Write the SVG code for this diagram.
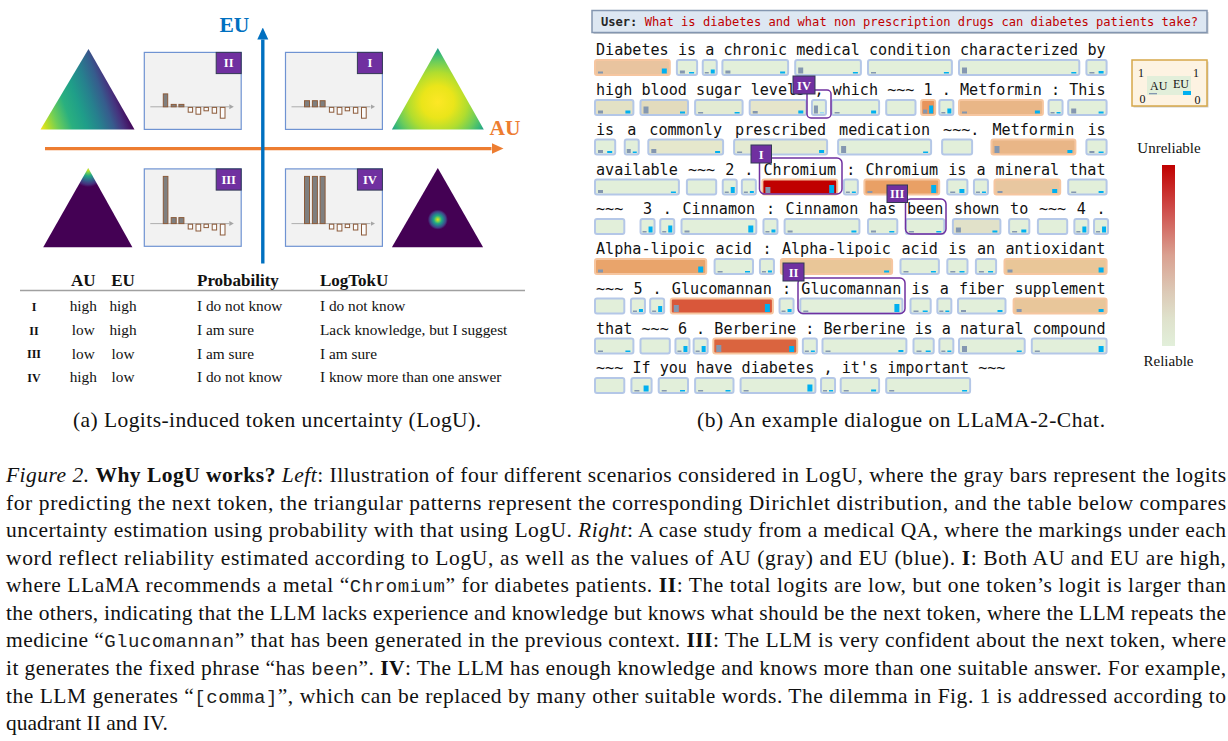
<svg xmlns="http://www.w3.org/2000/svg" width="1228" height="741" viewBox="0 0 1228 741">
<defs>
<style>
.m{font-family:"DejaVu Sans Mono","Liberation Mono",monospace;font-size:15.1px;fill:#111}
.sf{font-family:"Liberation Serif","Times New Roman",serif;fill:#111}
.cap{font-family:"Liberation Serif","Times New Roman",serif;font-size:21.5px;fill:#111}
.cm{font-family:"Liberation Mono","Courier New",monospace;font-size:19px;fill:#222}
.b{fill:#e2efda;stroke:#b4c7e7;stroke-width:2;rx:2px;ry:2px}
.o{stroke:#f6c6a0}
.a{fill:#8497b0}
.e{fill:#00b0f0}
.ring{fill:none;stroke:#7030a0;stroke-width:1.5}
.tag{fill:#7030a0;stroke:#333a55;stroke-width:1}
.tt{fill:#fff;font-family:"Liberation Serif","Times New Roman",serif;font-weight:bold;font-size:12.5px;text-anchor:middle}
.panel{fill:#f2f2f2;stroke:#6f93d2;stroke-width:1.2}
.pb{fill:#7f7f7f;stroke:#8c5b3a;stroke-width:1}
.nb{fill:#fbfbfb;stroke:#8c5b3a;stroke-width:1}
.ax{stroke:#a6a6a6;stroke-width:0.9;fill:none}
.th{font-family:"Liberation Serif","Times New Roman",serif;font-weight:bold;font-size:17px;fill:#111}
.td{font-family:"Liberation Serif","Times New Roman",serif;font-size:15.3px;fill:#111}
.rn{font-family:"Liberation Serif","Times New Roman",serif;font-weight:bold;font-size:12px;fill:#111;text-anchor:middle}
.mid{text-anchor:middle}
</style>
<linearGradient id="gTL" gradientUnits="userSpaceOnUse" x1="40" y1="130" x2="125" y2="100">
<stop offset="0" stop-color="#fde725"/><stop offset="0.08" stop-color="#c2df23"/><stop offset="0.2" stop-color="#6ece58"/><stop offset="0.35" stop-color="#2ab07f"/><stop offset="0.5" stop-color="#1f9e89"/><stop offset="0.65" stop-color="#277f8e"/><stop offset="0.78" stop-color="#365c8d"/><stop offset="0.88" stop-color="#46337e"/><stop offset="1" stop-color="#440154"/>
</linearGradient>
<radialGradient id="gTR" gradientUnits="userSpaceOnUse" cx="437.8" cy="102" r="54">
<stop offset="0" stop-color="#fde725"/><stop offset="0.3" stop-color="#eae51a"/><stop offset="0.55" stop-color="#b0dd2f"/><stop offset="0.75" stop-color="#6ccd5a"/><stop offset="0.9" stop-color="#35b779"/><stop offset="1" stop-color="#23988a"/>
</radialGradient>
<radialGradient id="gBL" gradientUnits="userSpaceOnUse" cx="88.2" cy="170" r="17">
<stop offset="0" stop-color="#d8e219"/><stop offset="0.15" stop-color="#7ad151"/><stop offset="0.35" stop-color="#22a884"/><stop offset="0.6" stop-color="#31688e"/><stop offset="0.85" stop-color="#462f7c"/><stop offset="1" stop-color="#440154"/>
</radialGradient>
<radialGradient id="gBR" gradientUnits="userSpaceOnUse" cx="437.8" cy="219.6" r="10">
<stop offset="0" stop-color="#e5e419"/><stop offset="0.2" stop-color="#7ad151"/><stop offset="0.4" stop-color="#22a884"/><stop offset="0.6" stop-color="#2a788e"/><stop offset="0.8" stop-color="#414487"/><stop offset="1" stop-color="#440154"/>
</radialGradient>
<linearGradient id="cb" x1="0" y1="0" x2="0" y2="1">
<stop offset="0" stop-color="#c00000"/><stop offset="0.25" stop-color="#cf4f4c"/><stop offset="0.5" stop-color="#daa191"/><stop offset="0.7" stop-color="#dcc9b6"/><stop offset="0.85" stop-color="#dfe2cc"/><stop offset="1" stop-color="#e2efda"/>
</linearGradient>
<marker id="mo" markerUnits="userSpaceOnUse" markerWidth="12" markerHeight="12" refX="0" refY="5.5" orient="auto"><path d="M0,0 L12,5.5 L0,11 z" fill="#ed7d31"/></marker>
<marker id="mb" markerUnits="userSpaceOnUse" markerWidth="12" markerHeight="12" refX="0" refY="5.5" orient="auto"><path d="M0,0 L12,5.5 L0,11 z" fill="#0070c0"/></marker>
<marker id="mg" markerUnits="userSpaceOnUse" markerWidth="6" markerHeight="6" refX="0" refY="2.5" orient="auto"><path d="M0,0 L4.5,2.5 L0,5 z" fill="#a6a6a6"/></marker>
</defs>
<rect width="1228" height="741" fill="#fff"/>

<!-- LEFT PANEL -->
<g id="tri-II"><polygon points="88.5,49 134.5,129.4 40.5,129.4" fill="url(#gTL)"/></g>
<g id="tri-I"><polygon points="437.8,48 483.8,129.4 391.9,129.4" fill="url(#gTR)"/></g>
<g id="tri-III"><polygon points="88.2,167.9 132.4,247.3 43.2,247.3" fill="url(#gBL)"/></g>
<g id="tri-IV"><polygon points="437.8,167.9 483.1,247.3 391.9,247.3" fill="url(#gBR)"/></g>

<g id="panel-II" transform="translate(144.3,52.4)">
<rect class="panel" width="96.9" height="77"/>
<line class="ax" x1="6" y1="54.4" x2="85" y2="54.4" marker-end="url(#mg)"/>
<rect class="pb" x="19" y="41.5" width="4.4" height="12.9"/><rect class="pb" x="26.9" y="52" width="5" height="2.4"/><rect class="pb" x="34.6" y="52" width="5" height="2.4"/>
<rect class="nb" x="43.9" y="55" width="4.4" height="4.8"/><rect class="nb" x="51.7" y="55" width="4.7" height="6.8"/><rect class="nb" x="59.7" y="55" width="4.4" height="3.4"/><rect class="nb" x="67.9" y="55" width="4.4" height="5.8"/><rect class="nb" x="76" y="55" width="4.7" height="10.8"/>
<rect class="tag" x="71.9" y="0" width="25" height="21.2"/><text class="tt" x="84.4" y="15">II</text>
</g>
<g id="panel-I" transform="translate(285.5,52.4)">
<rect class="panel" width="96.9" height="77"/>
<line class="ax" x1="6" y1="54.4" x2="85" y2="54.4" marker-end="url(#mg)"/>
<rect class="pb" x="19" y="48.3" width="5" height="6.1"/><rect class="pb" x="26.9" y="48.3" width="5" height="6.1"/><rect class="pb" x="34.6" y="48.3" width="5" height="6.1"/>
<rect class="nb" x="43.9" y="55" width="4.4" height="4.8"/><rect class="nb" x="51.7" y="55" width="4.7" height="6.8"/><rect class="nb" x="59.7" y="55" width="4.4" height="3.4"/><rect class="nb" x="67.9" y="55" width="4.4" height="5.8"/><rect class="nb" x="76" y="55" width="4.7" height="10.8"/>
<rect class="tag" x="71.9" y="0" width="25" height="21.2"/><text class="tt" x="84.4" y="15">I</text>
</g>
<g id="panel-III" transform="translate(144.3,168.9)">
<rect class="panel" width="96.9" height="77.4"/>
<line class="ax" x1="6" y1="54.7" x2="85" y2="54.7" marker-end="url(#mg)"/>
<rect class="pb" x="19" y="7.5" width="4.6" height="47.2"/><rect class="pb" x="26.9" y="48.7" width="5" height="6"/><rect class="pb" x="34.6" y="48.7" width="5" height="6"/>
<rect class="nb" x="43.9" y="55.3" width="4.4" height="4.8"/><rect class="nb" x="51.7" y="55.3" width="4.7" height="6.8"/><rect class="nb" x="59.7" y="55.3" width="4.4" height="3.4"/><rect class="nb" x="67.9" y="55.3" width="4.4" height="5.8"/><rect class="nb" x="76" y="55.3" width="4.7" height="10.8"/>
<rect class="tag" x="71.9" y="0" width="25" height="21.2"/><text class="tt" x="84.4" y="15">III</text>
</g>
<g id="panel-IV" transform="translate(285.5,168.9)">
<rect class="panel" width="96.9" height="77.4"/>
<line class="ax" x1="6" y1="54.7" x2="85" y2="54.7" marker-end="url(#mg)"/>
<rect class="pb" x="19" y="7.5" width="5" height="47.2"/><rect class="pb" x="26.9" y="7.5" width="5" height="47.2"/><rect class="pb" x="34.6" y="7.5" width="5" height="47.2"/>
<rect class="nb" x="43.9" y="55.3" width="4.4" height="4.8"/><rect class="nb" x="51.7" y="55.3" width="4.7" height="6.8"/><rect class="nb" x="59.7" y="55.3" width="4.4" height="3.4"/><rect class="nb" x="67.9" y="55.3" width="4.4" height="5.8"/><rect class="nb" x="76" y="55.3" width="4.7" height="10.8"/>
<rect class="tag" x="71.9" y="0" width="25" height="21.2"/><text class="tt" x="84.4" y="15">IV</text>
</g>

<g id="connectors">
<line x1="45" y1="148.6" x2="491.5" y2="148.6" stroke="#ed7d31" stroke-width="3.4" marker-end="url(#mo)"/>
<line x1="262.8" y1="263.5" x2="262.8" y2="39.5" stroke="#0070c0" stroke-width="3.4" marker-end="url(#mb)"/>
</g>
<text class="sf" x="219.5" y="32" font-size="21.5" font-weight="bold" style="fill:#0070c0">EU</text>
<text class="sf" x="489.5" y="134.5" font-size="21.5" font-weight="bold" style="fill:#ed7d31">AU</text>

<!-- TABLE -->
<g id="table">
<text class="th mid" x="83.3" y="286">AU</text>
<text class="th mid" x="123" y="286">EU</text>
<text class="th" x="197" y="286">Probability</text>
<text class="th" x="320" y="286">LogTokU</text>
<line x1="20" y1="290.5" x2="525" y2="290.5" stroke="#a0a0a0" stroke-width="1.5"/>
<text class="rn" x="34" y="311">I</text><text class="td mid" x="83.3" y="311.3">high</text><text class="td mid" x="123" y="311.3">high</text><text class="td" x="197" y="311.3">I do not know</text><text class="td" x="320" y="311.3">I do not know</text>
<text class="rn" x="34" y="334.7">II</text><text class="td mid" x="83.3" y="335">low</text><text class="td mid" x="123" y="335">high</text><text class="td" x="197" y="335">I am sure</text><text class="td" x="320" y="335">Lack knowledge, but I suggest</text>
<text class="rn" x="34" y="358.3">III</text><text class="td mid" x="83.3" y="358.6">low</text><text class="td mid" x="123" y="358.6">low</text><text class="td" x="197" y="358.6">I am sure</text><text class="td" x="320" y="358.6">I am sure</text>
<text class="rn" x="34" y="381.9">IV</text><text class="td mid" x="83.3" y="382.2">high</text><text class="td mid" x="123" y="382.2">low</text><text class="td" x="197" y="382.2">I do not know</text><text class="td" x="320" y="382.2">I know more than one answer</text>
</g>
<text class="sf" x="73" y="426.5" font-size="21.5" textLength="408" lengthAdjust="spacing">(a)  Logits-induced token uncertainty (LogU).</text>

<!-- RIGHT PANEL -->
<g id="user-box">
<rect x="593.5" y="12" width="615" height="22" fill="#c8ccd2"/>
<rect x="592" y="10.5" width="615" height="22" fill="#dde7f2" stroke="#8496b0" stroke-width="1.5"/>
<text x="601" y="26" font-family="DejaVu Sans Mono, Liberation Mono, monospace" font-size="12.1" textLength="597" lengthAdjust="spacingAndGlyphs"><tspan font-weight="bold" fill="#262626">User:</tspan> <tspan fill="#c00000">What is diabetes and what non prescription drugs can diabetes patients take?</tspan></text>
</g>

<g id="boxes">
<!-- line 1 -->
<g transform="translate(595,60)"><rect class="b o" width="74.8" height="15" style="fill:#e9c49f"/><rect class="a" x="3" y="11.5" width="5" height="2"/><rect class="e" x="66.8" y="8.5" width="5" height="5"/></g>
<g transform="translate(676.9,60)"><rect class="b" width="20.2" height="15"/><rect class="a" x="3" y="10.5" width="5" height="3"/><rect class="e" x="12.2" y="12" width="5" height="1.5"/></g>
<g transform="translate(702.75,60)"><rect class="b" width="14" height="15"/><rect class="a" x="2" y="12" width="4" height="1.5"/><rect class="e" x="8" y="9.5" width="4" height="4"/></g>
<g transform="translate(722.4,60)"><rect class="b" width="65.7" height="15"/><rect class="a" x="3" y="10.5" width="5" height="3"/><rect class="e" x="57.7" y="11.5" width="5" height="2"/></g>
<g transform="translate(795.2,60)"><rect class="b" width="65.7" height="15"/><rect class="a" x="3" y="7.5" width="5" height="6"/><rect class="e" x="57.7" y="12" width="5" height="1.5"/></g>
<g transform="translate(868,60)"><rect class="b" width="83.9" height="15"/><rect class="a" x="3" y="12" width="5" height="1.5"/><rect class="e" x="75.9" y="12" width="5" height="1.5"/></g>
<g transform="translate(959,60)"><rect class="b" width="120.3" height="15"/><rect class="a" x="3" y="7.5" width="5" height="6"/><rect class="e" x="112.3" y="12" width="5" height="1.5"/></g>
<g transform="translate(1086.4,60)"><rect class="b" width="20.2" height="15"/><rect class="a" x="3" y="12" width="5" height="1.5"/><rect class="e" x="12.2" y="11" width="5" height="2.5"/></g>
<!-- line 2 -->
<g transform="translate(595,100)"><rect class="b" width="38.4" height="15" style="fill:#e3e1c5"/><rect class="a" x="3" y="10.5" width="5" height="3"/><rect class="e" x="30.4" y="10.5" width="5" height="3"/></g>
<g transform="translate(640.5,100)"><rect class="b" width="47.5" height="15" style="fill:#e2dbbd"/><rect class="a" x="3" y="6.5" width="5" height="7"/><rect class="e" x="39.5" y="11.5" width="5" height="2"/></g>
<g transform="translate(695.1,100)"><rect class="b" width="47.5" height="15" style="fill:#e3ebd3"/><rect class="a" x="3" y="12" width="5" height="1.5"/><rect class="e" x="39.5" y="12" width="5" height="1.5"/></g>
<g transform="translate(749.7,100)"><rect class="b" width="56.6" height="15" style="fill:#e5e5cb"/><rect class="a" x="3" y="11" width="5" height="2.5"/><rect class="e" x="48.6" y="10.5" width="5" height="3"/></g>
<g transform="translate(811.95,100)"><rect class="b" width="14" height="15"/><rect class="a" x="2" y="5.5" width="4" height="8"/><rect class="e" x="8" y="12" width="4" height="1.5" style="fill:#9dd9f3"/></g>
<g transform="translate(831.6,100)"><rect class="b" width="47.5" height="15"/><rect class="a" x="3" y="12" width="5" height="1.5"/><rect class="e" x="39.5" y="10.5" width="5" height="3"/></g>
<g transform="translate(886.2,100)"><rect class="b" width="29.3" height="15"/></g>
<g transform="translate(921.15,100)"><rect class="b o" width="14" height="15" style="fill:#e8945c"/><rect class="a" x="2" y="9.5" width="4" height="4"/><rect class="e" x="8" y="5.5" width="4" height="8"/></g>
<g transform="translate(939.35,100)"><rect class="b" width="14" height="15"/><rect class="a" x="2" y="12" width="4" height="1.5"/><rect class="e" x="8" y="8.5" width="4" height="5"/></g>
<g transform="translate(959,100)"><rect class="b o" width="83.9" height="15" style="fill:#e9b687"/><rect class="a" x="3" y="11.5" width="5" height="2"/><rect class="e" x="75.9" y="10.5" width="5" height="3"/></g>
<g transform="translate(1048.55,100)"><rect class="b" width="14" height="15"/><rect class="a" x="2" y="12" width="4" height="1.5"/><rect class="e" x="8" y="12" width="4" height="1.5"/></g>
<g transform="translate(1068.2,100)"><rect class="b" width="38.4" height="15"/><rect class="a" x="3" y="8.5" width="5" height="5"/><rect class="e" x="30.4" y="11.5" width="5" height="2"/></g>
<!-- line 3 -->
<g transform="translate(595,139.5)"><rect class="b" width="20.2" height="15"/><rect class="a" x="3" y="10.5" width="5" height="3"/><rect class="e" x="12.2" y="11.5" width="5" height="2"/></g>
<g transform="translate(624.75,139.5)"><rect class="b" width="14" height="15"/><rect class="a" x="2" y="9.5" width="4" height="4"/><rect class="e" x="8" y="12" width="4" height="1.5"/></g>
<g transform="translate(648.3,139.5)"><rect class="b" width="74.8" height="15" style="fill:#e5e7cc"/><rect class="a" x="3" y="9.5" width="5" height="4"/><rect class="e" x="66.8" y="11.5" width="5" height="2"/></g>
<g transform="translate(734.1,139.5)"><rect class="b" width="93" height="15" style="fill:#e4ead2"/><rect class="a" x="3" y="12" width="5" height="1.5"/><rect class="e" x="85" y="10.5" width="5" height="3"/></g>
<g transform="translate(838.1,139.5)"><rect class="b" width="93" height="15"/><rect class="a" x="3" y="6.5" width="5" height="7"/><rect class="e" x="85" y="12" width="5" height="1.5"/></g>
<g transform="translate(942.1,139.5)"><rect class="b" width="30" height="15"/></g>
<g transform="translate(991.5,139.5)"><rect class="b o" width="83.9" height="15" style="fill:#e9b687"/><rect class="a" x="3" y="6.5" width="5" height="7"/><rect class="e" x="75.9" y="10.5" width="5" height="3"/></g>
<g transform="translate(1086.4,139.5)"><rect class="b" width="20.2" height="15"/><rect class="a" x="3" y="11.5" width="5" height="2"/><rect class="e" x="12.2" y="12" width="5" height="1.5"/></g>
<!-- line 4 -->
<g transform="translate(595,179.5)"><rect class="b" width="83.9" height="15"/><rect class="a" x="3" y="10.5" width="5" height="3"/><rect class="e" x="75.9" y="12" width="5" height="1.5"/></g>
<g transform="translate(686.9,179.5)"><rect class="b" width="29.3" height="15"/></g>
<g transform="translate(722.75,179.5)"><rect class="b" width="14" height="15"/><rect class="a" x="2" y="12" width="4" height="1.5"/><rect class="e" x="8" y="7.5" width="4" height="6"/></g>
<g transform="translate(741.85,179.5)"><rect class="b" width="14" height="15"/><rect class="a" x="2" y="12" width="4" height="1.5"/><rect class="e" x="8" y="11.5" width="4" height="2"/></g>
<g transform="translate(762.4,179.5)"><rect class="b o" width="74.8" height="15" style="fill:#c00000"/><rect class="a" x="3" y="7.5" width="5" height="6"/><rect class="e" x="66.8" y="5.5" width="5" height="8"/></g>
<g transform="translate(843.85,179.5)"><rect class="b" width="14" height="15"/><rect class="a" x="2" y="12" width="4" height="1.5"/><rect class="e" x="8" y="12" width="4" height="1.5"/></g>
<g transform="translate(864.4,179.5)"><rect class="b o" width="74.8" height="15" style="fill:#e9a065"/><rect class="a" x="3" y="11.5" width="5" height="2"/><rect class="e" x="66.8" y="5.5" width="5" height="8"/></g>
<g transform="translate(947.2,179.5)"><rect class="b" width="20.2" height="15"/><rect class="a" x="3" y="12" width="5" height="1.5"/><rect class="e" x="12.2" y="9.5" width="5" height="4"/></g>
<g transform="translate(973.95,179.5)"><rect class="b" width="14" height="15"/><rect class="a" x="2" y="12" width="4" height="1.5"/><rect class="e" x="8" y="12" width="4" height="1.5"/></g>
<g transform="translate(994.5,179.5)"><rect class="b o" width="65.7" height="15" style="fill:#e8c7a0"/><rect class="a" x="3" y="11.5" width="5" height="2"/><rect class="e" x="57.7" y="9.5" width="5" height="4"/></g>
<g transform="translate(1068.2,179.5)"><rect class="b" width="38.4" height="15"/><rect class="a" x="3" y="12" width="5" height="1.5"/><rect class="e" x="30.4" y="11.5" width="5" height="2"/></g>
<!-- line 5 -->
<g transform="translate(595,219)"><rect class="b" width="29.3" height="15"/></g>
<g transform="translate(640.55,219)"><rect class="b" width="14" height="15"/><rect class="a" x="2" y="12" width="4" height="1.5"/><rect class="e" x="8" y="7.5" width="4" height="6"/></g>
<g transform="translate(660.25,219)"><rect class="b" width="14" height="15"/><rect class="a" x="2" y="12" width="4" height="1.5"/><rect class="e" x="8" y="6.5" width="4" height="7"/></g>
<g transform="translate(681.5,219)"><rect class="b" width="74.8" height="15"/><rect class="a" x="3" y="11.5" width="5" height="2"/><rect class="e" x="66.8" y="6.5" width="5" height="7"/></g>
<g transform="translate(763.45,219)"><rect class="b" width="14" height="15"/><rect class="a" x="2" y="12" width="4" height="1.5"/><rect class="e" x="8" y="10.5" width="4" height="3"/></g>
<g transform="translate(784.6,219)"><rect class="b" width="74.8" height="15"/><rect class="a" x="3" y="11.5" width="5" height="2"/><rect class="e" x="66.8" y="11.5" width="5" height="2"/></g>
<g transform="translate(868,219)"><rect class="b" width="29.3" height="15"/><rect class="a" x="3" y="11.5" width="5" height="2"/><rect class="e" x="21.3" y="12" width="5" height="1.5"/></g>
<g transform="translate(905.9,219)"><rect class="b" width="38.4" height="15"/><rect class="a" x="3" y="12" width="5" height="1.5"/><rect class="e" x="30.4" y="12" width="5" height="1.5"/></g>
<g transform="translate(952.9,219)"><rect class="b" width="47.5" height="15" style="fill:#e1e1c9"/><rect class="a" x="3" y="8.5" width="5" height="5"/><rect class="e" x="39.5" y="11.5" width="5" height="2"/></g>
<g transform="translate(1009.1,219)"><rect class="b" width="20.2" height="15"/><rect class="a" x="3" y="12" width="5" height="1.5"/><rect class="e" x="12.2" y="10.5" width="5" height="3"/></g>
<g transform="translate(1037.9,219)"><rect class="b" width="29.3" height="15"/></g>
<g transform="translate(1074.35,219)"><rect class="b" width="14" height="15"/><rect class="a" x="2" y="12" width="4" height="1.5"/><rect class="e" x="8" y="7.5" width="4" height="6"/></g>
<g transform="translate(1094.05,219)"><rect class="b" width="14" height="15"/><rect class="a" x="2" y="12" width="4" height="1.5"/><rect class="e" x="8" y="7.5" width="4" height="6"/></g>
<!-- line 6 -->
<g transform="translate(595,259)"><rect class="b o" width="111.2" height="15" style="fill:#e9a46b"/><rect class="a" x="3" y="10.5" width="5" height="3"/><rect class="e" x="103.2" y="7.5" width="5" height="6"/></g>
<g transform="translate(714.6,259)"><rect class="b" width="38.4" height="15"/><rect class="a" x="3" y="12" width="5" height="1.5"/><rect class="e" x="30.4" y="12" width="5" height="1.5"/></g>
<g transform="translate(759.95,259)"><rect class="b" width="14" height="15"/><rect class="a" x="2" y="12" width="4" height="1.5"/><rect class="e" x="8" y="11.5" width="4" height="2"/></g>
<g transform="translate(780.9,259)"><rect class="b o" width="111.2" height="15" style="fill:#e9c698"/><rect class="e" x="103.2" y="11.5" width="5" height="2"/></g>
<g transform="translate(900.5,259)"><rect class="b" width="38.4" height="15"/><rect class="a" x="3" y="12" width="5" height="1.5"/><rect class="e" x="30.4" y="12" width="5" height="1.5"/></g>
<g transform="translate(947.3,259)"><rect class="b" width="20.2" height="15"/><rect class="a" x="3" y="12" width="5" height="1.5"/><rect class="e" x="12.2" y="12" width="5" height="1.5"/></g>
<g transform="translate(975.9,259)"><rect class="b" width="20.2" height="15"/><rect class="a" x="3" y="12" width="5" height="1.5"/><rect class="e" x="12.2" y="12" width="5" height="1.5"/></g>
<g transform="translate(1004.5,259)"><rect class="b o" width="102.1" height="15" style="fill:#e9c698"/><rect class="a" x="3" y="10.5" width="5" height="3"/><rect class="e" x="94.1" y="8.5" width="5" height="5"/></g>
<!-- line 7 -->
<g transform="translate(595,298.5)"><rect class="b" width="29.3" height="15"/></g>
<g transform="translate(630.95,298.5)"><rect class="b" width="14" height="15"/><rect class="a" x="2" y="12" width="4" height="1.5"/><rect class="e" x="8" y="10.5" width="4" height="3"/></g>
<g transform="translate(650.15,298.5)"><rect class="b" width="14" height="15"/><rect class="a" x="2" y="12" width="4" height="1.5"/><rect class="e" x="8" y="7.5" width="4" height="6"/></g>
<g transform="translate(670.8,298.5)"><rect class="b o" width="102.1" height="15" style="fill:#d9573a"/><rect class="a" x="3" y="6.5" width="5" height="7"/><rect class="e" x="94.1" y="5.5" width="5" height="8"/></g>
<g transform="translate(779.55,298.5)"><rect class="b" width="14" height="15"/><rect class="a" x="2" y="12" width="4" height="1.5"/><rect class="e" x="8" y="10.5" width="4" height="3"/></g>
<g transform="translate(800.3,298.5)"><rect class="b" width="102.1" height="15"/><rect class="a" x="3" y="12" width="5" height="1.5"/><rect class="e" x="94.1" y="5.5" width="5" height="8"/></g>
<g transform="translate(910.5,298.5)"><rect class="b" width="20.2" height="15"/><rect class="a" x="3" y="12" width="5" height="1.5"/><rect class="e" x="12.2" y="12" width="5" height="1.5"/></g>
<g transform="translate(937.35,298.5)"><rect class="b" width="14" height="15"/><rect class="a" x="2" y="12" width="4" height="1.5"/><rect class="e" x="8" y="12" width="4" height="1.5"/></g>
<g transform="translate(958,298.5)"><rect class="b" width="47.5" height="15"/><rect class="a" x="3" y="11.5" width="5" height="2"/><rect class="e" x="39.5" y="11.5" width="5" height="2"/></g>
<g transform="translate(1013.6,298.5)"><rect class="b o" width="93" height="15" style="fill:#e8c69a"/><rect class="a" x="3" y="10.5" width="5" height="3"/><rect class="e" x="85" y="10.5" width="5" height="3"/></g>
<!-- line 8 -->
<g transform="translate(595,338.5)"><rect class="b" width="38.4" height="15"/><rect class="a" x="3" y="12" width="5" height="1.5"/><rect class="e" x="30.4" y="12" width="5" height="1.5"/></g>
<g transform="translate(640.5,338.5)"><rect class="b" width="29.3" height="15"/></g>
<g transform="translate(675.45,338.5)"><rect class="b" width="14" height="15"/><rect class="a" x="2" y="12" width="4" height="1.5"/><rect class="e" x="8" y="7.5" width="4" height="6"/></g>
<g transform="translate(693.65,338.5)"><rect class="b" width="14" height="15"/><rect class="a" x="2" y="12" width="4" height="1.5"/><rect class="e" x="8" y="7.5" width="4" height="6"/></g>
<g transform="translate(713.3,338.5)"><rect class="b o" width="83.9" height="15" style="fill:#da643f"/><rect class="a" x="3" y="6.5" width="5" height="7"/><rect class="e" x="75.9" y="7.5" width="5" height="6"/></g>
<g transform="translate(802.85,338.5)"><rect class="b" width="14" height="15"/><rect class="a" x="2" y="12" width="4" height="1.5"/><rect class="e" x="8" y="12" width="4" height="1.5"/></g>
<g transform="translate(822.5,338.5)"><rect class="b" width="83.9" height="15"/><rect class="a" x="3" y="12" width="5" height="1.5"/><rect class="e" x="75.9" y="11.5" width="5" height="2"/></g>
<g transform="translate(913.5,338.5)"><rect class="b" width="20.2" height="15"/><rect class="a" x="3" y="12" width="5" height="1.5"/><rect class="e" x="12.2" y="12" width="5" height="1.5"/></g>
<g transform="translate(939.35,338.5)"><rect class="b" width="14" height="15"/><rect class="a" x="2" y="12" width="4" height="1.5"/><rect class="e" x="8" y="12" width="4" height="1.5"/></g>
<g transform="translate(959,338.5)"><rect class="b" width="65.7" height="15"/><rect class="a" x="3" y="7.5" width="5" height="6"/><rect class="e" x="57.7" y="12" width="5" height="1.5"/></g>
<g transform="translate(1031.8,338.5)"><rect class="b" width="74.8" height="15"/><rect class="a" x="3" y="12" width="5" height="1.5"/><rect class="e" x="66.8" y="7.5" width="5" height="6"/></g>
<!-- line 9 -->
<g transform="translate(595,378)"><rect class="b" width="29.3" height="15"/></g>
<g transform="translate(631.4,378)"><rect class="b" width="20.2" height="15"/><rect class="a" x="3" y="12" width="5" height="1.5"/><rect class="e" x="12.2" y="7.5" width="5" height="6"/></g>
<g transform="translate(658.7,378)"><rect class="b" width="29.3" height="15"/><rect class="a" x="3" y="12" width="5" height="1.5"/><rect class="e" x="21.3" y="12" width="5" height="1.5"/></g>
<g transform="translate(695.1,378)"><rect class="b" width="38.4" height="15"/><rect class="a" x="3" y="12" width="5" height="1.5"/><rect class="e" x="30.4" y="12" width="5" height="1.5"/></g>
<g transform="translate(740.6,378)"><rect class="b" width="74.8" height="15"/><rect class="a" x="3" y="12" width="5" height="1.5"/><rect class="e" x="66.8" y="6.5" width="5" height="7"/></g>
<g transform="translate(821.05,378)"><rect class="b" width="14" height="15"/><rect class="a" x="2" y="12" width="4" height="1.5"/><rect class="e" x="8" y="12" width="4" height="1.5"/></g>
<g transform="translate(840.7,378)"><rect class="b" width="38.4" height="15"/><rect class="a" x="3" y="12" width="5" height="1.5"/><rect class="e" x="30.4" y="11.5" width="5" height="2"/></g>
<g transform="translate(886.2,378)"><rect class="b" width="83.9" height="15"/><rect class="a" x="3" y="12" width="5" height="1.5"/><rect class="e" x="75.9" y="12" width="5" height="1.5"/></g>
</g>

<g id="answer-text">
<text class="m" y="55"><tspan x="596">Diabetes</tspan><tspan x="677.9">is</tspan><tspan x="705.2">a</tspan><tspan x="723.4">chronic</tspan><tspan x="796.2">medical</tspan><tspan x="869">condition</tspan><tspan x="960">characterized</tspan><tspan x="1087.4">by</tspan></text>
<text class="m" y="95"><tspan x="596">high</tspan><tspan x="641.5">blood</tspan><tspan x="696.1">sugar</tspan><tspan x="750.7">levels</tspan><tspan x="814.4">,</tspan><tspan x="832.6">which</tspan><tspan x="887.2">~~~</tspan><tspan x="923.6">1</tspan><tspan x="941.8">.</tspan><tspan x="960">Metformin</tspan><tspan x="1051">:</tspan><tspan x="1069.2">This</tspan></text>
<text class="m" y="134.5"><tspan x="596">is</tspan><tspan x="627.2">a</tspan><tspan x="649.3">commonly</tspan><tspan x="735.1">prescribed</tspan><tspan x="839.1">medication</tspan><tspan x="943.1">~~~.</tspan><tspan x="992.5">Metformin</tspan><tspan x="1087.4">is</tspan></text>
<text class="m" y="174.5"><tspan x="596">available</tspan><tspan x="687.9">~~~</tspan><tspan x="725.2">2</tspan><tspan x="744.3">.</tspan><tspan x="763.4">Chromium</tspan><tspan x="846.3">:</tspan><tspan x="865.4">Chromium</tspan><tspan x="948.2">is</tspan><tspan x="976.4">a</tspan><tspan x="995.5">mineral</tspan><tspan x="1069.2">that</tspan></text>
<text class="m" y="214"><tspan x="596">~~~</tspan><tspan x="643">3</tspan><tspan x="662.7">.</tspan><tspan x="682.5">Cinnamon</tspan><tspan x="765.9">:</tspan><tspan x="785.6">Cinnamon</tspan><tspan x="869">has</tspan><tspan x="906.9">been</tspan><tspan x="953.9">shown</tspan><tspan x="1010.1">to</tspan><tspan x="1038.9">~~~</tspan><tspan x="1076.8">4</tspan><tspan x="1096.5">.</tspan></text>
<text class="m" y="254"><tspan x="596">Alpha-lipoic</tspan><tspan x="715.6">acid</tspan><tspan x="762.4">:</tspan><tspan x="781.9">Alpha-lipoic</tspan><tspan x="901.5">acid</tspan><tspan x="948.3">is</tspan><tspan x="976.9">an</tspan><tspan x="1005.5">antioxidant</tspan></text>
<text class="m" y="293.5"><tspan x="596">~~~</tspan><tspan x="633.4">5</tspan><tspan x="652.6">.</tspan><tspan x="671.8">Glucomannan</tspan><tspan x="782">:</tspan><tspan x="801.3">Glucomannan</tspan><tspan x="911.5">is</tspan><tspan x="939.8">a</tspan><tspan x="959">fiber</tspan><tspan x="1014.6">supplement</tspan></text>
<text class="m" y="333.5"><tspan x="596">that</tspan><tspan x="641.5">~~~</tspan><tspan x="677.9">6</tspan><tspan x="696.1">.</tspan><tspan x="714.3">Berberine</tspan><tspan x="805.3">:</tspan><tspan x="823.5">Berberine</tspan><tspan x="914.5">is</tspan><tspan x="941.8">a</tspan><tspan x="960">natural</tspan><tspan x="1032.8">compound</tspan></text>
<text class="m" y="373"><tspan x="596">~~~</tspan><tspan x="632.4">If</tspan><tspan x="659.7">you</tspan><tspan x="696.1">have</tspan><tspan x="741.6">diabetes</tspan><tspan x="823.5">,</tspan><tspan x="841.7">it's</tspan><tspan x="887.2">important</tspan><tspan x="978.2">~~~</tspan></text>
</g>

<g id="marker-IV"><rect class="ring" x="807" y="90" width="24" height="28" rx="4"/><rect class="tag" x="793" y="76" width="22" height="18"/><text class="tt" x="804" y="89.5" font-size="11.5">IV</text></g>
<g id="marker-I"><rect class="ring" x="759.5" y="158" width="82.5" height="36" rx="5"/><rect class="tag" x="751" y="145" width="20.5" height="18"/><text class="tt" x="761.2" y="158.5" font-size="11.5">I</text></g>
<g id="marker-III"><rect class="ring" x="905.5" y="199" width="40.5" height="35" rx="5"/><rect class="tag" x="887" y="185" width="20.5" height="17.5"/><text class="tt" x="897.2" y="198.3" font-size="11.5">III</text></g>
<g id="marker-II"><rect class="ring" x="798" y="278" width="107" height="35.5" rx="5"/><rect class="tag" x="783" y="263" width="21" height="18"/><text class="tt" x="793.5" y="276.5" font-size="11.5">II</text></g>

<g id="legend">
<rect x="1133.5" y="61.5" width="75" height="46" fill="#cfcfcf"/>
<rect x="1132" y="60" width="75" height="46" fill="#fdf3e2" stroke="#d6a84a" stroke-width="1.5"/>
<rect x="1147" y="76" width="44" height="19" fill="#e2efda"/>
<text class="sf" x="1138" y="77" font-size="12">1</text>
<text class="sf" x="1193" y="77" font-size="12">1</text>
<text class="sf" x="1139.5" y="102.5" font-size="12">0</text>
<text class="sf" x="1194.5" y="104" font-size="12">0</text>
<text class="sf" x="1150" y="89.5" font-size="12">AU</text>
<text class="sf" x="1173" y="87.5" font-size="12">EU</text>
<rect x="1149" y="93" width="8" height="1.3" fill="#8497b0"/>
<rect x="1183" y="91" width="8" height="4" fill="#00b0f0"/>
</g>
<g id="colorbar">
<text class="sf mid" x="1169" y="153" font-size="15">Unreliable</text>
<rect x="1162" y="165" width="13" height="181" fill="url(#cb)"/>
<text class="sf mid" x="1168.5" y="366" font-size="15">Reliable</text>
</g>
<text class="sf" x="697" y="426.5" font-size="21.5" textLength="408" lengthAdjust="spacing">(b)  An example dialogue on LLaMA-2-Chat.</text>

<!-- CAPTION -->
<g id="caption">
<text class="cap" x="6" y="482" textLength="1220" lengthAdjust="spacing"><tspan font-style="italic">Figure 2.</tspan> <tspan font-weight="bold">Why LogU works?</tspan> <tspan font-style="italic">Left</tspan>: Illustration of four different scenarios considered in LogU, where the gray bars represent the logits</text>
<text class="cap" x="6" y="510" textLength="1220" lengthAdjust="spacing">for predicting the next token, the triangular patterns represent the corresponding Dirichlet distribution, and the table below compares</text>
<text class="cap" x="6" y="537" textLength="1220" lengthAdjust="spacing">uncertainty estimation using probability with that using LogU. <tspan font-style="italic">Right</tspan>: A case study from a medical QA, where the markings under each</text>
<text class="cap" x="6" y="565" textLength="1220" lengthAdjust="spacing">word reflect reliability estimated according to LogU, as well as the values of AU (gray) and EU (blue). <tspan font-weight="bold">I</tspan>: Both AU and EU are high,</text>
<text class="cap" x="6" y="592" textLength="1220" lengthAdjust="spacing">where LLaMA recommends a metal “<tspan class="cm">Chromium</tspan>” for diabetes patients. <tspan font-weight="bold">II</tspan>: The total logits are low, but one token’s logit is larger than</text>
<text class="cap" x="6" y="620" textLength="1220" lengthAdjust="spacing">the others, indicating that the LLM lacks experience and knowledge but knows what should be the next token, where the LLM repeats the</text>
<text class="cap" x="6" y="647" textLength="1220" lengthAdjust="spacing">medicine “<tspan class="cm">Glucomannan</tspan>” that has been generated in the previous context. <tspan font-weight="bold">III</tspan>: The LLM is very confident about the next token, where</text>
<text class="cap" x="6" y="675" textLength="1220" lengthAdjust="spacing">it generates the fixed phrase “has <tspan class="cm">been</tspan>”. <tspan font-weight="bold">IV</tspan>: The LLM has enough knowledge and knows more than one suitable answer. For example,</text>
<text class="cap" x="6" y="703" textLength="1220" lengthAdjust="spacing">the LLM generates “<tspan class="cm">[comma]</tspan>”, which can be replaced by many other suitable words. The dilemma in Fig. 1 is addressed according to</text>
<text class="cap" x="6" y="730">quadrant II and IV.</text>
</g>
</svg>
